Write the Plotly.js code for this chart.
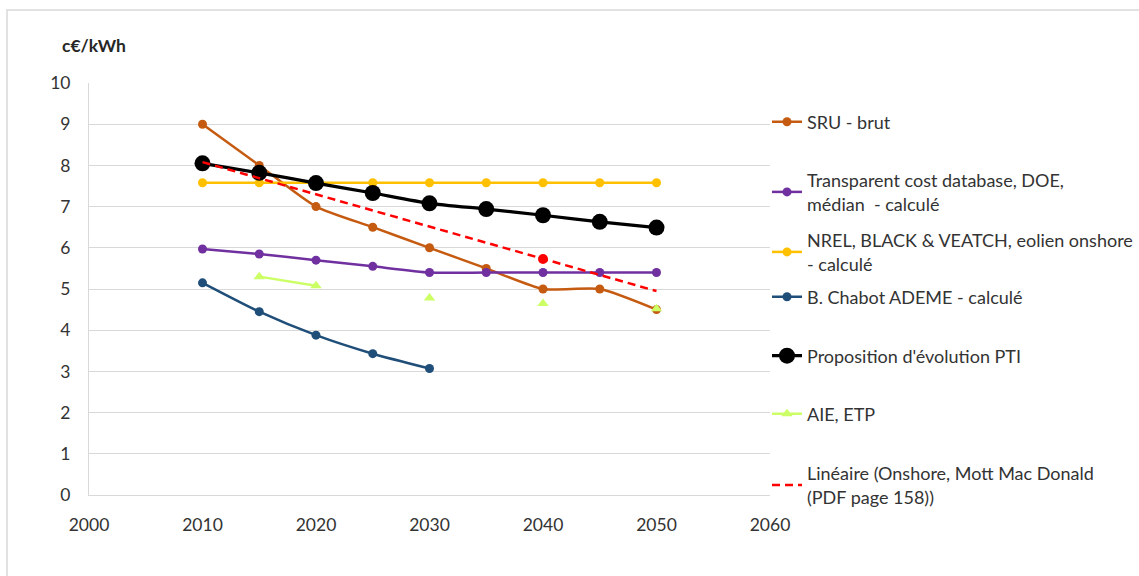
<!DOCTYPE html>
<html>
<head>
<meta charset="utf-8">
<script src="https://cdn.plot.ly/plotly-3.0.1.min.js"></script>
<style>
html,body{margin:0;padding:0;background:#fff;}
#chart{width:1139px;height:576px;}
</style>
</head>
<body>
<div id="chart"></div>
<script>
// ---- data ----
const years = [2010, 2015, 2020, 2025, 2030, 2035, 2040, 2045, 2050];
const sruBrut = [9.0, 8.0, 7.0, 6.5, 6.0, 5.5, 5.0, 5.0, 4.5];
const transparentDOE = [5.97, 5.85, 5.7, 5.55, 5.4, 5.4, 5.4, 5.4, 5.4];
const nrelBV = [7.58, 7.58, 7.58, 7.58, 7.58, 7.58, 7.58, 7.58, 7.58];
const chabotYears = [2010, 2015, 2020, 2025, 2030];
const chabotADEME = [5.15, 4.45, 3.88, 3.43, 3.07];
const ptiProposition = [8.05, 7.82, 7.57, 7.33, 7.08, 6.94, 6.79, 6.63, 6.49];
const aieYears = [2015, 2020, 2025, 2030, 2035, 2040, 2045, 2050];
const aieETP = [5.3, 5.08, null, 4.78, null, 4.65, null, 4.52];
const mottYears = [2040];
const mottOnshore = [5.73];
const trendYears = [2010, 2050];
const trendLinear = [8.08, 4.95];
const xTicks = [2000, 2010, 2020, 2030, 2040, 2050, 2060];
const yTicks = [0, 1, 2, 3, 4, 5, 6, 7, 8, 9, 10];

const seriesNames = [
  'SRU - brut',
  'Transparent cost database, DOE,<br>médian  - calculé',
  'NREL, BLACK &amp; VEATCH, eolien onshore<br>- calculé',
  'B. Chabot ADEME - calculé',
  "Proposition d'évolution PTI",
  'AIE, ETP',
  'Linéaire (Onshore, Mott Mac Donald<br>(PDF page 158))'
];

const FONT = 'Lato, "Open Sans", sans-serif';
const TXT = '#333333';

const traces = [
  {x: years, y: sruBrut, name: seriesNames[0], legend: 'legend',
   mode: 'lines+markers', line: {color: '#C55A11', width: 2.5, shape: 'spline', smoothing: 0.6},
   marker: {color: '#C55A11', size: 9}},
  {x: years, y: transparentDOE, name: seriesNames[1], legend: 'legend2',
   mode: 'lines+markers', line: {color: '#7030A0', width: 2.5, shape: 'spline', smoothing: 0.6},
   marker: {color: '#7030A0', size: 9}},
  {x: years, y: nrelBV, name: seriesNames[2], legend: 'legend3',
   mode: 'lines+markers', line: {color: '#FFC000', width: 2.5, shape: 'spline', smoothing: 0.6},
   marker: {color: '#FFC000', size: 9}},
  {x: chabotYears, y: chabotADEME, name: seriesNames[3], legend: 'legend4',
   mode: 'lines+markers', line: {color: '#1F4E79', width: 2.5, shape: 'spline', smoothing: 0.6},
   marker: {color: '#1F4E79', size: 9}},
  {x: years, y: ptiProposition, name: seriesNames[4], legend: 'legend5',
   mode: 'lines+markers', line: {color: '#000000', width: 3.25, shape: 'spline', smoothing: 0.6},
   marker: {color: '#000000', size: 16}},
  {x: aieYears, y: aieETP, name: seriesNames[5], legend: 'legend6',
   mode: 'lines+markers', connectgaps: false,
   line: {color: '#CCFF66', width: 2.5},
   marker: {color: '#CCFF66', size: 10, symbol: 'triangle-up'}},
  {x: mottYears, y: mottOnshore, name: 'Onshore, Mott Mac Donald', showlegend: false,
   mode: 'markers', marker: {color: '#FF0000', size: 10}},
  {x: trendYears, y: trendLinear, name: seriesNames[6], legend: 'legend7',
   mode: 'lines', line: {color: '#FF0000', width: 2.5, dash: '8px,5px'}}
];

const L = 89, R = 770, T = 83, B = 495, W = 1139, H = 576;
const pw = R - L, ph = B - T;
function py(pix) { return (B - pix) / ph; }
const legCenters = [122, 192, 252, 297, 356, 414, 485];
const legX = (767 - L) / pw;

const layout = {
  width: W, height: H,
  margin: {l: L, r: W - R, t: T, b: H - B, pad: 0, autoexpand: false},
  paper_bgcolor: '#ffffff', plot_bgcolor: '#ffffff',
  font: {family: FONT, size: 17, color: TXT},
  showlegend: true,
  xaxis: {
    range: [2000, 2060], tickvals: xTicks, ticktext: xTicks.map(String),
    showgrid: false, zeroline: false, showline: true, linecolor: '#d9d9d9', linewidth: 1,
    ticks: '', ticklabelstandoff: 14, tickfont: {family: FONT, size: 17.5, color: TXT}
  },
  yaxis: {
    range: [0, 10], tickvals: yTicks, ticktext: yTicks.map(String),
    showgrid: true, gridcolor: '#d9d9d9', gridwidth: 1, zeroline: false,
    showline: true, linecolor: '#d9d9d9', linewidth: 1,
    ticks: '', ticklabelstandoff: 14, tickfont: {family: FONT, size: 17.5, color: TXT}
  },
  annotations: [{
    text: '<b>c€/kWh</b>', xref: 'paper', yref: 'paper',
    x: (60 - L) / pw, y: py(45), xanchor: 'left', yanchor: 'middle',
    showarrow: false, font: {family: FONT, size: 17.5, color: '#262626'}
  }],
  shapes: [{
    type: 'rect', xref: 'paper', yref: 'paper', layer: 'below',
    x0: (7 - L) / pw, x1: (W + 20 - L) / pw, y0: py(H + 20), y1: py(10),
    line: {color: '#d9d9d9', width: 1.5}, fillcolor: 'rgba(0,0,0,0)'
  }]
};
const legendKeys = ['legend', 'legend2', 'legend3', 'legend4', 'legend5', 'legend6', 'legend7'];
legendKeys.forEach((k, i) => {
  layout[k] = {
    x: legX, xanchor: 'left', y: py(legCenters[i]), yanchor: 'middle',
    bgcolor: 'rgba(0,0,0,0)', borderwidth: 0,
    font: {family: FONT, size: 18, color: TXT},
    itemclick: false, itemdoubleclick: false
  };
});

Plotly.newPlot('chart', traces, layout, {displayModeBar: false, staticPlot: true});
</script>
</body>
</html>
